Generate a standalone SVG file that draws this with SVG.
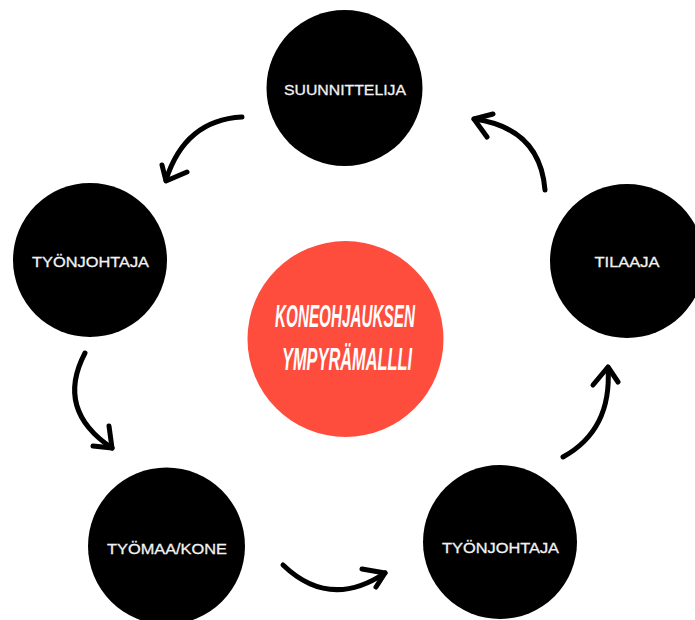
<svg xmlns="http://www.w3.org/2000/svg" width="695" height="620" viewBox="0 0 695 620">
<style>
.node{fill:#000}
.lbl{fill:#f2f2f2;stroke:#f2f2f2;stroke-width:0.3;font-family:"Liberation Sans",Arial,sans-serif;font-size:15px;text-anchor:middle}
.ctr{fill:#fff;font-family:"Liberation Sans",Arial,sans-serif;font-size:31px;font-weight:bold;font-style:italic;text-anchor:middle}
.arr{fill:none;stroke:#000;stroke-width:5;stroke-linecap:round;stroke-linejoin:round}
</style>
<rect width="695" height="620" fill="#fff"/>
<g id="center">
<circle cx="345.5" cy="339" r="98" fill="#FF4D3D"/>
<text class="ctr" x="345" y="327" textLength="140" lengthAdjust="spacingAndGlyphs">KONEOHJAUKSEN</text>
<text class="ctr" x="347" y="370" textLength="130" lengthAdjust="spacingAndGlyphs">YMPYRÄMALLLI</text>
</g>
<g id="suunnittelija">
<circle class="node" cx="344.5" cy="88" r="78"/>
<text class="lbl" x="345" y="95" textLength="122" lengthAdjust="spacingAndGlyphs">SUUNNITTELIJA</text>
</g>
<g id="tyonjohtaja-left">
<circle class="node" cx="90" cy="260" r="77"/>
<text class="lbl" x="90.5" y="267" textLength="117" lengthAdjust="spacingAndGlyphs">TYÖNJOHTAJA</text>
</g>
<g id="tilaaja">
<circle class="node" cx="627" cy="261" r="77"/>
<text class="lbl" x="627" y="267" textLength="65" lengthAdjust="spacingAndGlyphs">TILAAJA</text>
</g>
<g id="tyomaa-kone">
<circle class="node" cx="166.5" cy="546" r="78.5"/>
<text class="lbl" x="167" y="554" textLength="120" lengthAdjust="spacingAndGlyphs">TYÖMAA/KONE</text>
</g>
<g id="tyonjohtaja-right">
<circle class="node" cx="500" cy="542" r="77"/>
<text class="lbl" x="500.5" y="553" textLength="117" lengthAdjust="spacingAndGlyphs">TYÖNJOHTAJA</text>
</g>
<g id="connectors">
<path class="arr" d="M242,117 Q185,120 166,180"/>
<path class="arr" d="M162,165 L166,181 L187,172"/>
<path class="arr" d="M545,190 Q540,128 474,119"/>
<path class="arr" d="M493,114 L474,119 L487,137"/>
<path class="arr" d="M85,353 Q55,410 112,448"/>
<path class="arr" d="M109,426 L112,448 L93,446"/>
<path class="arr" d="M563,457 Q612,430 608,368"/>
<path class="arr" d="M593,385 L608,367 L618,382"/>
<path class="arr" d="M283,565 Q330,610 385,573"/>
<path class="arr" d="M362,569 L385,573 L376,587"/>
</g>
</svg>
